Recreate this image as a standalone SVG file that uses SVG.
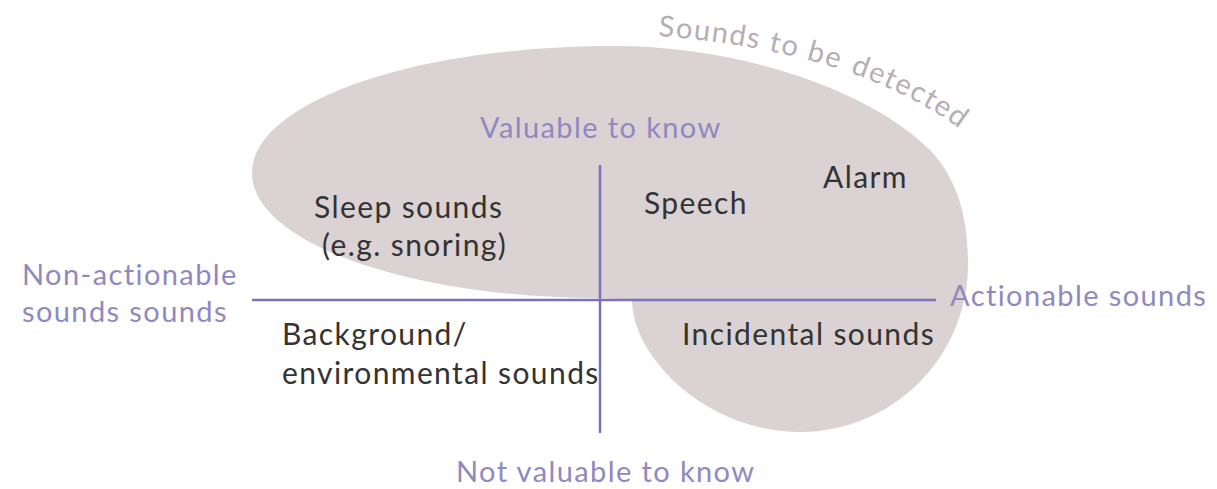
<svg xmlns="http://www.w3.org/2000/svg" width="1217" height="489" viewBox="0 0 1217 489">
<style>
.blob{fill:#dbd2d4;stroke:none}
.axis{stroke:#7b72b9;stroke-width:2.5;fill:none}
.ax{font-family:Lato,"Noto Sans",sans-serif;font-size:29px;letter-spacing:1.4px;fill:#9089c0}
.lb{font-family:Lato,"Noto Sans",sans-serif;font-size:30px;letter-spacing:1.4px;fill:#333333}
.cv{font-family:Lato,"Noto Sans",sans-serif;font-size:29px;letter-spacing:1.5px;fill:#b6aeb3}
</style>
<defs>
<path id="arc1" d="M 658,36 C 790,46 910,80 985,150"/>
<path id="arc2" d="M 847.9,72.2 C 901.65,90.57 948.6,116.05 985,150 L 1010,175"/>
</defs>
<g id="region">
<path class="blob" d="M252,173 C252,104 408,46 615,46 C740,46 870,90 930,150 C960,182 968,222 968,264 C968,357 893,432 800,432 C707,432 632,357 632,300 L600,298 C408,298 252,242 252,173 Z"/>
<text class="cv"><textPath href="#arc1">Sounds to be</textPath></text>
<text class="cv"><textPath href="#arc2" startOffset="2">detected</textPath></text>
</g>
<g id="connectors">
<line class="axis" x1="252" y1="300" x2="936" y2="300"/>
<line class="axis" x1="600" y1="165" x2="600" y2="433"/>
</g>
<g id="axis-labels">
<text class="ax" x="480" y="138">Valuable to know</text>
<text class="ax" x="456" y="482">Not valuable to know</text>
<text class="ax" x="22" y="285">Non-actionable</text>
<text class="ax" x="22" y="322">sounds sounds</text>
<text class="ax" x="950" y="306">Actionable sounds</text>
</g>
<g id="sleep"><text class="lb" x="314" y="218">Sleep sounds</text><text class="lb" x="322" y="256">(e.g. snoring)</text></g>
<g id="speech"><text class="lb" x="644" y="214">Speech</text></g>
<g id="alarm"><text class="lb" x="823" y="188">Alarm</text></g>
<g id="background"><text class="lb" x="282" y="345">Background/</text><text class="lb" x="282" y="384">environmental sounds</text></g>
<g id="incidental"><text class="lb" x="682" y="345">Incidental sounds</text></g>
</svg>
